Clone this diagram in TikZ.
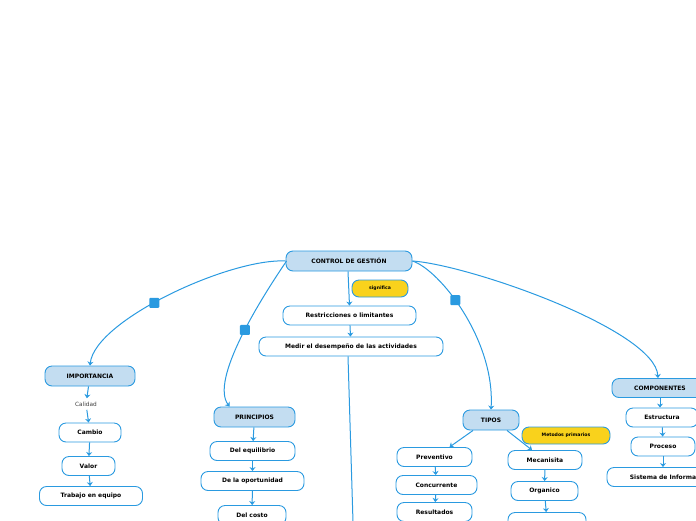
\documentclass[tikz,border=0pt]{standalone}
\usepackage{fontspec}
\setmainfont{DejaVu Sans}
\usetikzlibrary{arrows.meta}
\definecolor{bl}{HTML}{2A9AE0}
\definecolor{lb}{HTML}{C3DDF1}
\definecolor{yl}{HTML}{F9D21C}
\begin{document}
\begin{tikzpicture}[x=1pt,y=-1pt,
 box/.style={draw=bl,line width=0.9pt,rounded corners=7pt,fill=white,font=\bfseries\fontsize{6}{7}\selectfont,inner sep=0pt,minimum height=19pt},
 main/.style={box,fill=lb},
 tag/.style={box,fill=yl,minimum height=17pt,font=\bfseries\fontsize{4.6}{5}\selectfont},
 con/.style={draw=bl,line width=1pt,-{Stealth[length=4pt,width=6pt]}},
 sq/.style={fill=bl,rounded corners=1pt,minimum size=10pt,inner sep=0pt}]
\useasboundingbox (0,0) rectangle (696,520);
\node[main,minimum width=126pt,minimum height=20pt] (root) at (349,261) {CONTROL DE GESTIÓN};
\node[tag,minimum width=56pt] (sig) at (380,288.5) {significa};
\node[box,minimum width=133pt] (res) at (349.5,315.5) {Restricciones o limitantes};
\node[box,minimum width=184pt] (med) at (351,346.5) {Medir el desempeño de las actividades};
\coordinate (medend) at (353,522);
\node[main,minimum width=90pt,minimum height=20pt] (imp) at (90,376) {IMPORTANCIA};
\node[font=\fontsize{5.8}{6}\selectfont,text=black!75] (cal) at (86,404) {Calidad};
\node[box,minimum width=62pt] (cam) at (90,432.5) {Cambio};
\node[box,minimum width=53pt] (val) at (88.5,466) {Valor};
\node[box,minimum width=103pt] (tra) at (91,496) {Trabajo en equipo};
\node[main,minimum width=81pt,minimum height=20pt] (pri) at (254.5,417) {PRINCIPIOS};
\node[box,minimum width=85pt] (equ) at (252.5,451) {Del equilibrio};
\node[box,minimum width=103pt] (opo) at (252.5,481) {De la oportunidad};
\node[box,minimum width=68pt] (cos) at (252,515) {Del costo};
\node[main,minimum width=56pt,minimum height=20pt] (tip) at (491,420) {TIPOS};
\node[tag,minimum width=88pt] (met) at (566,435.5) {Metodos primarios};
\node[box,minimum width=75pt] (pre) at (434.5,457) {Preventivo};
\node[box,minimum width=81pt] (conc) at (436.5,485) {Concurrente};
\node[box,minimum width=75pt] (resu) at (434.5,512) {Resultados};
\node[box,minimum width=74pt] (mec) at (545,460) {Mecanisita};
\node[box,minimum width=67pt] (org) at (544.5,491) {Organico};
\node[box,minimum width=78pt] (oth) at (547,522) {};
\node[main,minimum width=96pt] (com) at (660,388) {COMPONENTES};
\node[box,minimum width=72pt] (est) at (662,417.5) {Estructura};
\node[box,minimum width=64pt] (pro) at (663,446.5) {Proceso};
\node[box,minimum width=126pt] (sis) at (670,477) {Sistema de Información};
\draw[con] (root.west) .. controls (230,258) and (95,320) .. (imp.north) node[sq,pos=0.56]{};
\draw[con] ([xshift=1pt]root.west) .. controls (260,300) and (210,380) .. ([xshift=-25pt]pri.north) node[sq,pos=0.45]{};
\draw[con] ([xshift=-1pt]root.south) -- (res.north);
\draw[con] (root.east) .. controls (440,270) and (495,340) .. (tip.north) node[sq,pos=0.42]{};
\draw[con] (root.east) .. controls (470,265) and (655,330) .. ([xshift=-2pt]com.north);
\draw[draw=bl,line width=1pt] ([xshift=-3pt]med.south) -- (medend);
\draw[con] (res) -- (med);
\draw[con] (imp) -- (cal);
\draw[con] (cal) -- (cam);
\draw[con] (cam) -- (val);
\draw[con] (val) -- (tra);
\draw[con] (pri) -- (equ);
\draw[con] (equ) -- (opo);
\draw[con] (opo) -- (cos);
\draw[con] ([xshift=-18pt]tip.south) -- ([xshift=15pt]pre.north);
\draw[con] ([xshift=16pt]tip.south) -- ([xshift=-13pt]mec.north);
\draw[con] (pre) -- (conc);
\draw[con] (conc) -- (resu);
\draw[con] (mec) -- (org);
\draw[con] (org) -- (oth);
\draw[con] (com.south) -- (est.north -| com.south);
\draw[con] (est) -- (pro);
\draw[con] (pro.south) -- (sis.north -| pro.south);
\end{tikzpicture}
\end{document}
